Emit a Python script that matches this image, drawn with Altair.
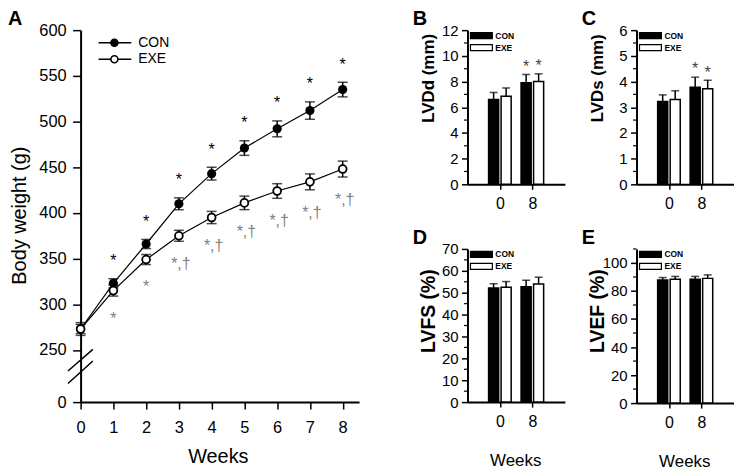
import altair as alt
import pandas as pd

FONT = "Liberation Sans"

# ---------------- Panel A data (body weight, g) ----------------
weeks = [0, 1, 2, 3, 4, 5, 6, 7, 8]
con_bw = [273, 323, 366, 410, 443, 471, 492, 512, 535]
con_se = [7, 5, 5, 6.5, 7, 8, 8.7, 9.5, 8]
exe_bw = [273, 315, 349, 375, 395, 411, 424, 434, 448]
exe_se = [5, 6, 5.5, 6, 6.7, 7.4, 8, 8.7, 8.7]
con_sig = ["", "*", "*", "*", "*", "*", "*", "*", "*"]
exe_sig = ["", "*", "*", "*,†", "*,†", "*,†", "*,†", "*,†", "*,†"]
bw_ticks = [0, 250, 300, 350, 400, 450, 500, 550, 600]

# ---------------- Panels B-E data ----------------
bar_weeks = ["0", "8"]
lvdd_con = [6.6, 7.9]
lvdd_con_se = [0.55, 0.65]
lvdd_exe = [6.85, 8.0]
lvdd_exe_se = [0.65, 0.6]
lvdd_sig = ["", "*"]

lvds_con = [3.22, 3.78]
lvds_con_se = [0.26, 0.39]
lvds_exe = [3.3, 3.72]
lvds_exe_se = [0.34, 0.33]
lvds_sig = ["", "*"]

lvfs_con = [52.2, 52.7]
lvfs_con_se = [1.9, 3.0]
lvfs_exe = [52.5, 54.0]
lvfs_exe_se = [2.6, 3.1]
lvfs_sig = ["", ""]

lvef_con = [87.8, 88.3]
lvef_con_se = [1.8, 2.1]
lvef_exe = [88.4, 89.0]
lvef_exe_se = [2.0, 2.5]
lvef_sig = ["", ""]

# ---------------- Panel A ----------------
GAP = 57.0  # display units used for the broken 0-250 segment


def disp(v):
    return v - 250 + GAP if v >= 250 else v * GAP / 250


rows = []
for grp, bw, se, sig in (("CON", con_bw, con_se, con_sig), ("EXE", exe_bw, exe_se, exe_sig)):
    for w, b, s, g in zip(weeks, bw, se, sig):
        rows.append(dict(week=w, group=grp, d=disp(b), lo=disp(b - s), hi=disp(b + s), sig=g))
dfA = pd.DataFrame(rows)
one = pd.DataFrame({"k": [0]})

xA = alt.Scale(domain=[0, 8.5], range=[0, 280], nice=False, zero=False)
yA = alt.Scale(domain=[0, disp(600)], range=[374, 0], nice=False, zero=False)

axA_x = alt.Axis(values=weeks, format="d", title="Weeks", titleFontSize=20, titleFontWeight="normal",
                 titleX=138, titleY=61, titleBaseline="alphabetic", titleAlign="center",
                 labelFontSize=16.5, tickSize=7, labelPadding=11, offset=219,
                 domainWidth=2, tickWidth=1.5, labelFlush=False)
off = 250 - GAP
axA_y = alt.Axis(values=[disp(t) for t in bw_ticks],
                 labelExpr=f"datum.value < 1 ? '0' : format(datum.value + {off}, 'd')",
                 title="Body weight (g)", titleFontSize=20, titleFontWeight="normal",
                 titleX=-61, titleY=186, titleAngle=270, titleAlign="center", titleBaseline="middle",
                 labelFontSize=16.5, tickSize=8, labelPadding=6.5, domainWidth=2, tickWidth=1.5)


def X(f):
    return alt.X(f, scale=xA, axis=axA_x)


def Y(f):
    return alt.Y(f, scale=yA, axis=axA_y)


baseA = alt.Chart(dfA)
lines = baseA.mark_line(color="black", strokeWidth=1.2).encode(
    x=X("week:Q"), y=Y("d:Q"), detail="group:N")
err = baseA.mark_rule(color="black", strokeWidth=1.5).encode(x=X("week:Q"), y=Y("lo:Q"), y2="hi:Q")
caps = baseA.transform_fold(["lo", "hi"], as_=["kk", "vv"]).mark_tick(
    orient="horizontal", color="black", size=10, thickness=1.5).encode(x=X("week:Q"), y=Y("vv:Q"))
pts_con = baseA.transform_filter("datum.group == 'CON'").mark_point(
    shape="circle", filled=True, color="black", size=85, opacity=1).encode(x=X("week:Q"), y=Y("d:Q"))
pts_exe = baseA.transform_filter("datum.group == 'EXE'").mark_point(
    shape="circle", filled=True, fill="white", stroke="black", strokeWidth=1.8, size=62, opacity=1).encode(
    x=X("week:Q"), y=Y("d:Q"))
sig_con = baseA.transform_filter("datum.group == 'CON' && datum.sig != ''").mark_text(
    fontSize=16, color="black", baseline="alphabetic", dy=-12.7).encode(x=X("week:Q"), y=Y("hi:Q"), text="sig:N")
sig_exe1 = baseA.transform_filter("datum.group == 'EXE' && datum.sig == '*'").mark_text(
    fontSize=16, color="#808080", baseline="alphabetic", dy=28).encode(x=X("week:Q"), y=Y("lo:Q"), text="sig:N")
sig_exe2 = baseA.transform_filter("datum.group == 'EXE' && datum.sig == '*,†'").mark_text(
    fontSize=16, color="#808080", baseline="alphabetic", dy=28, dx=2).encode(x=X("week:Q"), y=Y("lo:Q"), text="sig:N")

c1 = alt.Chart(one)
brk1 = c1.mark_rule(color="black", strokeWidth=1.5).encode(
    x=alt.value(-12.7), x2=alt.value(12.3), y=alt.value(342.7), y2=alt.value(321))
brk2 = c1.mark_rule(color="black", strokeWidth=1.5).encode(
    x=alt.value(-12.7), x2=alt.value(12.3), y=alt.value(355.3), y2=alt.value(332.7))

legA = []
for lab, yy, fill in (("CON", 12.7, "black"), ("EXE", 29.3, "white")):
    legA.append(c1.mark_rule(color="black", strokeWidth=1.5).encode(
        x=alt.value(18), x2=alt.value(51), y=alt.value(yy)))
    legA.append(c1.mark_point(shape="circle", filled=True, fill=fill, stroke="black", strokeWidth=1.6,
                              size=50, opacity=1).encode(x=alt.value(34), y=alt.value(yy)))
    legA.append(c1.mark_text(align="left", baseline="middle", fontSize=14, color="black").encode(
        x=alt.value(58), y=alt.value(yy), text=alt.value(lab)))

labA = c1.mark_text(align="left", baseline="alphabetic", fontSize=20, fontWeight="bold", color="black").encode(
    x=alt.value(-73), y=alt.value(-5), text=alt.value("A"))

panelA = alt.layer(lines, err, caps, pts_con, pts_exe, sig_con, sig_exe1, sig_exe2,
                   brk1, brk2, *legA, labA).properties(width=317, height=155)


# ---------------- Bar panels ----------------
def bar_panel(letter, con, con_se, exe, exe_se, sig, ymax, major, minor, title, title_size,
              height, title_y, weeks_title):
    rows = []
    for i, wk in enumerate(bar_weeks):
        for grp, v, s, lo, hi in (("CON", con[i], con_se[i], -0.35, -0.04), ("EXE", exe[i], exe_se[i], 0.035, 0.345)):
            rows.append(dict(wk=wk, group=grp, x_lo=i + lo, x_hi=i + hi, xc=i + (lo + hi) / 2,
                             val=v, top=v + s, zero=0, sig=sig[i]))
    df = pd.DataFrame(rows)
    xs = alt.Scale(domain=[-1, 2], range=[0, 98], nice=False, zero=False)
    ys = alt.Scale(domain=[0, ymax], nice=False, zero=True)
    xax = alt.Axis(values=[0, 1], labelExpr="datum.value < 0.5 ? '0' : '8'",
                   title="Weeks" if weeks_title else "", titleFontSize=17, titleFontWeight="normal",
                   titleX=48, titleY=64, titleBaseline="alphabetic", titleAlign="center",
                   labelFontSize=16, tickSize=5, labelPadding=6.5, domainWidth=2, tickWidth=1.5)
    yax = alt.Axis(values=major, title=title, titleFontSize=title_size, titleFontWeight="bold",
                   titleX=-39, titleY=title_y, titleAngle=270, titleAlign="center", titleBaseline="middle",
                   labelFontSize=15, tickSize=6, labelPadding=3.5, domainWidth=2, tickWidth=1.5)

    def XB(f):
        return alt.X(f, scale=xs, axis=xax)

    def YB(f):
        return alt.Y(f, scale=ys, axis=yax)

    base = alt.Chart(df)
    bars = base.mark_rect(stroke="black", strokeWidth=1.5).encode(
        x=XB("x_lo:Q"), x2="x_hi:Q", y=YB("val:Q"), y2="zero:Q",
        fill=alt.Fill("group:N", scale=alt.Scale(domain=["CON", "EXE"], range=["black", "white"]), legend=None))
    eb = base.mark_rule(color="black", strokeWidth=1.5).encode(x=XB("xc:Q"), y=YB("val:Q"), y2="top:Q")
    cap = base.mark_tick(orient="horizontal", color="black", size=8, thickness=1.5).encode(
        x=XB("xc:Q"), y=YB("top:Q"))
    st = base.transform_filter("datum.sig != ''").mark_text(
        fontSize=16, color="#444444", baseline="alphabetic", dy=-2.7).encode(
        x=XB("xc:Q"), y=YB("top:Q"), text="sig:N")
    mn = alt.Chart(pd.DataFrame({"m": minor})).mark_rule(color="black", strokeWidth=1.2).encode(
        y=YB("m:Q"), x=alt.value(-3.5), x2=alt.value(0))
    c = alt.Chart(one)
    leg = []
    for lab, yy, fill in (("CON", 5.5, "black"), ("EXE", 17.5, "white")):
        leg.append(c.mark_rect(fill=fill, stroke="black", strokeWidth=1.2).encode(
            x=alt.value(3), x2=alt.value(25), y=alt.value(yy - 3), y2=alt.value(yy + 3)))
        leg.append(c.mark_text(align="left", baseline="middle", fontSize=8.5, fontWeight="bold",
                               color="black").encode(x=alt.value(28), y=alt.value(yy), text=alt.value(lab)))
    lab = c.mark_text(align="left", baseline="alphabetic", fontSize=20, fontWeight="bold", color="black").encode(
        x=alt.value(-55), y=alt.value(-5), text=alt.value(letter))
    return alt.layer(bars, eb, cap, st, mn, *leg, lab).properties(width=98, height=height)


panelB = bar_panel("B", lvdd_con, lvdd_con_se, lvdd_exe, lvdd_exe_se, lvdd_sig, 12,
                   [0, 2, 4, 6, 8, 10, 12], [1, 3, 5, 7, 9, 11], "LVDd (mm)", 17, 155, 48, False)
panelC = bar_panel("C", lvds_con, lvds_con_se, lvds_exe, lvds_exe_se, lvds_sig, 6,
                   [0, 1, 2, 3, 4, 5, 6], [0.5, 1.5, 2.5, 3.5, 4.5, 5.5], "LVDs (mm)", 17, 155, 48, False)
panelD = bar_panel("D", lvfs_con, lvfs_con_se, lvfs_exe, lvfs_exe_se, lvfs_sig, 70,
                   [0, 10, 20, 30, 40, 50, 60, 70], [5, 15, 25, 35, 45, 55, 65], "LVFS (%)", 19.5, 154, 62, True)
panelE = bar_panel("E", lvef_con, lvef_con_se, lvef_exe, lvef_exe_se, lvef_sig, 110,
                   [0, 20, 40, 60, 80, 100], [10, 30, 50, 70, 90, 110], "LVEF (%)", 19.5, 155, 62, True)

placeholder = alt.Chart(one).mark_point(opacity=0).properties(width=317, height=1)

chart = alt.concat(panelA, panelB, panelC, placeholder, panelD, panelE, columns=3,
                   spacing={"row": 65, "column": 72}, bounds="flush", align="each").properties(
    padding=0
).configure_view(stroke=None).configure_axis(
    grid=False, domainColor="black", tickColor="black", labelColor="black", titleColor="black",
    labelFont=FONT, titleFont=FONT
).configure_text(font=FONT)

chart.save("out.html", embed_options={"renderer": "svg", "actions": False})
